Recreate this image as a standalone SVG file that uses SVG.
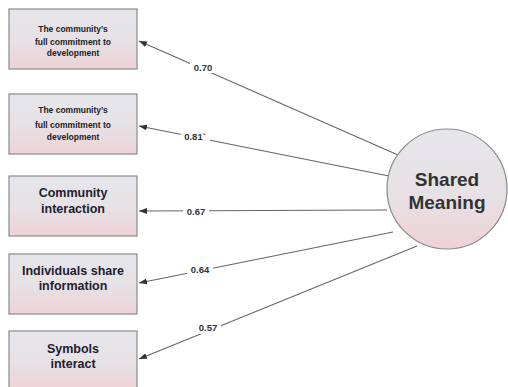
<svg xmlns="http://www.w3.org/2000/svg" width="508" height="387" viewBox="0 0 508 387">
<defs>
<linearGradient id="g" x1="0" y1="0" x2="0" y2="1">
<stop offset="0" stop-color="#e6e6ea"/>
<stop offset="0.5" stop-color="#e6e2e6"/>
<stop offset="1" stop-color="#eed2d6"/>
</linearGradient>
<marker id="ah" markerWidth="8" markerHeight="6" refX="8" refY="3" orient="auto" markerUnits="userSpaceOnUse">
<path d="M0,0 L8,3 L0,6 Z" fill="#333"/>
</marker>
<style>
.box{fill:url(#g);stroke:#8a8a8a;stroke-width:1.2}
.circ{fill:url(#g);stroke:#8a8a8a;stroke-width:1.2}
.small{font-family:"Liberation Sans",Arial,sans-serif;font-size:8.5px;fill:#222;text-anchor:middle;font-weight:bold}
.big{font-family:"Liberation Sans",Arial,sans-serif;font-size:12.5px;font-weight:bold;fill:#1e2030;text-anchor:middle}
.title{font-family:"Liberation Sans",Arial,sans-serif;font-size:19px;font-weight:bold;fill:#333;text-anchor:middle}
.lbl{font-family:"Liberation Sans",Arial,sans-serif;font-size:9.5px;font-weight:bold;fill:#333;text-anchor:middle}
.conn{stroke:#666;stroke-width:1.1;fill:none}
.halo{fill:#fff}
</style>
</defs>
<rect width="508" height="387" fill="#fff"/>
<g id="connectors">
<line class="conn" x1="398" y1="155" x2="139" y2="41" marker-end="url(#ah)"/>
<line class="conn" x1="389" y1="176" x2="139" y2="126" marker-end="url(#ah)"/>
<line class="conn" x1="387" y1="210" x2="139" y2="211" marker-end="url(#ah)"/>
<line class="conn" x1="393" y1="232" x2="139" y2="283" marker-end="url(#ah)"/>
<line class="conn" x1="417" y1="246" x2="139" y2="359" marker-end="url(#ah)"/>
<rect class="halo" x="190" y="61" width="26" height="12"/>
<text class="lbl" x="203" y="70.5">0.70</text>
<rect class="halo" x="181" y="130" width="29" height="12"/>
<text class="lbl" x="195" y="139.5">0.81`</text>
<rect class="halo" x="183" y="206" width="26" height="12"/>
<text class="lbl" x="196" y="215">0.67</text>
<rect class="halo" x="187" y="264" width="26" height="12"/>
<text class="lbl" x="200" y="273">0.64</text>
<rect class="halo" x="195" y="322" width="26" height="12"/>
<text class="lbl" x="208" y="331">0.57</text>
</g>
<g id="n1">
<rect class="box" x="9" y="9" width="128" height="60"/>
<text class="small" x="73" y="32">The community’s</text>
<text class="small" x="73" y="44.5">full commitment  to</text>
<text class="small" x="73" y="56">development</text>
</g>
<g id="n2">
<rect class="box" x="9" y="94" width="128" height="60"/>
<text class="small" x="73" y="113">The community’s</text>
<text class="small" x="73" y="128">full commitment  to</text>
<text class="small" x="73" y="140">development</text>
</g>
<g id="n3">
<rect class="box" x="9" y="176" width="128" height="60"/>
<text class="big" x="73" y="197">Community</text>
<text class="big" x="73" y="213">interaction</text>
</g>
<g id="n4">
<rect class="box" x="9" y="254" width="128" height="60"/>
<text class="big" x="73" y="275">Individuals share</text>
<text class="big" x="73" y="290">information</text>
</g>
<g id="n5">
<rect class="box" x="9" y="331" width="128" height="60"/>
<text class="big" x="73" y="353">Symbols</text>
<text class="big" x="73" y="368">interact</text>
</g>
<g id="shared">
<circle class="circ" cx="447" cy="189" r="60"/>
<text class="title" x="447" y="186">Shared</text>
<text class="title" x="447" y="209">Meaning</text>
</g>
</svg>
